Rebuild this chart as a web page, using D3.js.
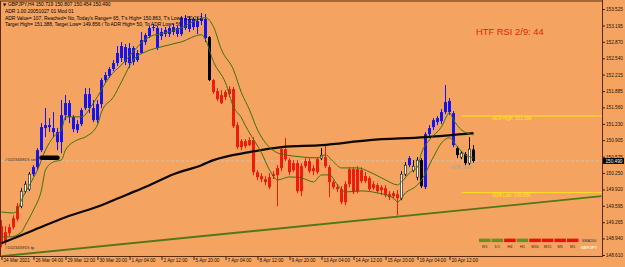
<!DOCTYPE html>
<html>
<head>
<meta charset="utf-8">
<script src="https://cdn.jsdelivr.net/npm/d3@7"></script>
<style>
body { margin: 0; background: #f4a460; }
svg { display: block; font-family: "Liberation Sans", Arial, sans-serif; }
</style>
</head>
<body>
<script>
// GBPJPY H4 bars, 24 Mar 20:00 .. 21 Apr 12:00
var opens = [
 149.185,148.865,149.045,149.165,149.325,149.585,149.885,149.925,150.225,150.365,
 150.705,151.145,151.165,151.145,151.065,150.865,151.405,151.645,151.365,151.105,
 151.225,151.545,151.825,151.545,151.305,151.625,152.105,152.185,152.325,152.445,
 152.545,152.765,152.445,152.745,152.505,152.645,152.865,152.985,153.145,153.145,
 152.985,153.025,153.025,153.065,153.145,153.025,153.345,153.125,153.325,153.165,
 153.285,153.325,152.965,152.105,151.885,151.805,151.765,151.825,151.925,151.205,
 150.765,150.885,150.805,150.905,150.265,150.185,150.125,150.165,150.185,150.205,
 150.345,150.725,150.505,150.305,150.445,149.885,150.385,150.485,150.285,150.265,
 150.545,150.565,150.365,150.065,149.965,149.925,149.665,150.025,150.325,149.885,
 150.305,150.085,150.145,149.945,150.005,149.905,149.945,149.825,149.785,149.825,
 149.745,150.225,150.405,150.305,150.165,150.505,149.965,151.025,151.165,151.265,
 151.285,151.465,151.685,151.445,150.745,150.565,150.625,150.445,150.719];
var highs = [
 149.305,149.185,149.225,149.405,149.645,149.945,150.085,150.265,150.405,150.745,
 151.245,151.545,151.345,151.465,151.145,151.705,151.805,151.705,151.405,151.305,
 151.545,151.945,151.945,151.705,151.705,152.145,152.265,152.365,152.505,152.785,
 152.865,152.825,152.845,152.785,152.705,153.065,153.045,153.185,153.225,153.185,
 153.145,153.165,153.185,153.225,153.185,153.385,153.405,153.385,153.365,153.365,
 153.445,153.425,152.985,152.125,151.945,151.905,151.905,151.985,151.965,151.265,
 150.925,150.925,150.965,150.965,150.305,150.245,150.185,150.245,150.285,150.405,
 150.765,150.945,150.545,150.505,150.505,150.445,150.545,150.545,150.405,150.565,
 150.745,150.805,150.405,150.105,150.025,149.985,150.085,150.365,150.365,150.385,
 150.365,150.265,150.185,150.085,150.045,150.005,150.005,149.885,149.885,149.905,
 150.285,150.465,150.585,150.505,150.565,150.545,151.065,151.205,151.345,151.385,
 151.525,152.005,151.745,151.485,150.785,150.685,150.665,150.965,150.807];
var lows = [
 148.765,148.805,148.985,149.125,149.285,149.545,149.845,149.885,150.185,150.305,
 150.665,150.965,151.065,150.965,150.705,150.645,151.305,151.245,151.065,151.045,
 151.185,151.505,151.445,151.265,151.245,151.545,152.045,152.145,152.285,152.385,
 152.465,152.405,152.345,152.405,152.465,152.625,152.805,152.945,153.085,152.705,
 152.905,152.965,152.965,153.005,152.965,152.985,153.105,153.065,153.105,153.025,
 153.205,152.865,152.085,151.825,151.685,151.625,151.705,151.765,151.145,150.725,
 150.705,150.745,150.785,150.205,150.105,150.065,150.005,149.925,150.125,149.585,
 150.285,150.485,150.205,150.265,149.845,149.785,150.345,150.245,150.205,150.225,
 150.505,150.345,149.765,149.925,149.865,149.625,149.605,149.965,149.825,149.845,
 150.045,150.045,149.885,149.905,149.845,149.805,149.765,149.705,149.725,149.405,
 149.705,150.185,150.365,150.265,150.105,149.945,149.925,150.945,151.105,151.205,
 151.225,151.425,151.405,150.765,150.545,150.525,150.405,150.405,150.454];
var closes = [
 148.845,149.065,149.165,149.345,149.585,149.885,150.025,150.225,150.365,150.705,
 151.165,151.205,151.205,151.065,150.865,151.405,151.645,151.365,151.125,151.225,
 151.505,151.825,151.545,151.305,151.625,152.105,152.205,152.325,152.445,152.645,
 152.785,152.465,152.745,152.465,152.645,152.905,153.005,153.145,153.165,152.745,
 153.065,153.105,153.145,153.165,153.025,153.345,153.145,153.325,153.165,153.285,
 153.345,152.945,152.105,151.865,151.725,151.645,151.865,151.925,151.185,150.765,
 150.885,150.785,150.905,150.265,150.165,150.125,150.065,149.965,150.225,150.345,
 150.725,150.525,150.265,150.445,149.885,150.385,150.485,150.285,150.345,150.525,
 150.605,150.385,150.065,149.965,149.925,149.665,150.025,150.325,149.865,150.325,
 150.085,150.185,149.925,150.025,149.885,149.965,149.805,149.765,149.845,149.745,
 150.225,150.405,150.545,150.385,150.505,149.985,151.025,151.145,151.305,151.345,
 151.465,151.665,151.465,150.805,150.605,150.645,150.445,150.725,150.490];
// r = red, b = blue, w = white, k = black
var barColor = ("rrrrrwwwbb" + "bbbbbbbbbb" + "bbbbbbbbbb" + "bbbbbbbbbb" + "bbbbbbbbbb" +
  "bbkrrrrrrr" + "rrrrrrrrrr" + "rrrrrrrrrr" + "wrrrrrrrrr" + "rrrrrrrrrr" +
  "wwbwwkbbbb" + "bbbbkwkwk").split("");

// indicator lines, [bar, price]
var upperMa = [[0,149.47],[3,149.45],[4,149.51],[5,149.71],[7,150.01],[9,150.31],[11,150.71],[13,150.97],
  [15,151.11],[16,151.37],[20,151.37],[23,151.65],[27,152.17],[30,152.41],[37,152.97],[41,153.05],
  [45,153.15],[49,153.31],[51,153.35],[53,153.17],[55,152.71],[58,152.31],[60,151.85],[62,151.51],
  [64,151.11],[66,150.85],[69,150.65],[71,150.61],[75,150.57],[79,150.55],[81,150.61],[83,150.47],
  [85,150.35],[89,150.35],[92,150.27],[96,150.11],[99,150.01],[100,150.07],[102,150.25],[104,150.37],
  [105,150.65],[107,150.91],[110,151.17],[112,151.45],[113,151.31],[115,151.11],[118,151.01]];
var lowerMa = [[0,148.97],[2,148.97],[5,149.07],[6,149.21],[8,149.51],[10,149.91],[11,150.31],[13,150.47],
  [15,150.51],[16,150.71],[19,150.91],[21,150.97],[24,151.21],[25,151.47],[28,151.77],[30,152.07],
  [33,152.51],[36,152.67],[39,152.75],[45,152.87],[50,153.01],[51,152.91],[53,152.47],[56,152.05],
  [58,151.57],[60,151.35],[61,151.19],[62,151.05],[65,150.65],[67,150.31],[69,150.11],[72,150.17],
  [75,150.15],[78,150.07],[80,150.21],[82,150.21],[84,150.01],[86,149.87],[90,149.89],[94,149.85],
  [98,149.75],[99,149.67],[101,149.85],[104,150.01],[105,150.11],[108,150.57],[110,150.85],
  [112,150.95],[114,150.77],[116,150.61],[118,150.55]];
var sma200 = [[0,148.845],[8,149.105],[16,149.365],[25,149.605],[31,149.805],[37,150.005],[43,150.225],
  [50,150.405],[53,150.505],[62,150.665],[70,150.765],[80,150.805],[92,150.905],[106,150.965],[118,151.045]];

var trendBars = [0, 150];
var trendPrices = [148.585, 149.785];
var adrHigh = 151.388, adrLow = 149.856, adrStartBar = 115;
var bidPrice = 150.490, tpPrice = 148.665, orderPrice = 150.555;
var orderBars = [10, 14];

var priceTicks = [153.525,153.195,152.870,152.540,152.215,151.885,151.560,151.230,150.905,
  150.575,150.250,149.920,149.595,149.265,148.940,148.610];
var timeTickBars = [0,8,16,24,32,40,48,56,64,72,80,88,96,104,112];
var timeLabels = ["24 Mar 2021","26 Mar 04:00","29 Mar 12:00","30 Mar 20:00","1 Apr 04:00",
  "2 Apr 12:00","5 Apr 20:00","7 Apr 04:00","8 Apr 12:00","9 Apr 20:00","13 Apr 04:00",
  "14 Apr 12:00","15 Apr 20:00","19 Apr 04:00","20 Apr 12:00"];

var infoLines = ["GBPJPY,H4  150.719 150.807 150.454 150.490",
  "ADR 1.00 20051027 01 Mod 01",
  "ADR Value= 107, Reached= No, Today's Range= 65, T's High= 150.863, T's Low= 150.212",
  "Target High= 151.388, Target Low= 149.856 / To ADR High= 50, To ADR Low= 56"];

var timeframes = ["W1","D1","H4","H1","M30","M15","M5","M1"];
var tfUp = [1,1,0,1,0,0,0,0];

var W = 625, H = 267, plotRight = 602, plotBottom = 256;
var fill = {r: "#ee1c0c", b: "#1414f0", w: "#ffffff", k: "#000000"};
var wick = {r: "#ee1c0c", b: "#1414f0", w: "#000000", k: "#000000"};

var svg = d3.select("body").append("svg").attr("width", W).attr("height", H);
svg.append("rect").attr("width", W).attr("height", H).attr("fill", "#f4a460");

var x = d3.scaleLinear().domain([0, 1]).range([1.5, 5.5]);
var y = d3.scaleLinear().domain([148.61, 153.525]).range([255, 9]);

svg.append("clipPath").attr("id", "plot").append("rect")
  .attr("x", 1).attr("y", 1).attr("width", plotRight - 1).attr("height", plotBottom - 1);
var g = svg.append("g").attr("clip-path", "url(#plot)");

// dashed bid + tp lines
g.append("line").attr("x1", 1).attr("x2", plotRight).attr("y1", y(bidPrice)).attr("y2", y(bidPrice))
  .attr("stroke", "#cfc6bc").attr("stroke-width", 0.8).attr("stroke-dasharray", "3,2");
g.append("line").attr("x1", 1).attr("x2", plotRight).attr("y1", y(tpPrice)).attr("y2", y(tpPrice))
  .attr("stroke", "#dcb38e").attr("stroke-width", 0.8).attr("stroke-dasharray", "3,2");

// trendline
g.append("line")
  .attr("x1", x(trendBars[0])).attr("y1", y(trendPrices[0]))
  .attr("x2", x(trendBars[1])).attr("y2", y(trendPrices[1]))
  .attr("stroke", "#50781a").attr("stroke-width", 1.8);

// ADR levels
[adrHigh, adrLow].forEach(function(p) {
  g.append("line").attr("x1", x(adrStartBar)).attr("x2", plotRight)
    .attr("y1", y(p)).attr("y2", y(p)).attr("stroke", "#ffe41a").attr("stroke-width", 1);
});

// candles
var bars = d3.range(opens.length).map(function(i) {
  return {i: i, o: opens[i], h: highs[i], l: lows[i], c: closes[i], k: barColor[i]};
});
var cg = g.append("g");
cg.selectAll(".wick").data(bars).enter().append("line")
  .attr("x1", function(d) { return x(d.i); }).attr("x2", function(d) { return x(d.i); })
  .attr("y1", function(d) { return y(d.h); }).attr("y2", function(d) { return y(d.l); })
  .attr("stroke", function(d) { return wick[d.k]; }).attr("stroke-width", 1);
cg.selectAll(".body").data(bars).enter().append("rect")
  .attr("x", function(d) { return x(d.i) - (d.k == "w" ? 1.2 : 1.5); })
  .attr("width", function(d) { return d.k == "w" ? 2.4 : 3; })
  .attr("y", function(d) { return y(Math.max(d.o, d.c)); })
  .attr("height", function(d) { return Math.max(1, Math.abs(y(d.o) - y(d.c))); })
  .attr("fill", function(d) { return fill[d.k]; })
  .attr("stroke", function(d) { return d.k == "w" ? "#000" : "none"; })
  .attr("stroke-width", 0.6);

// moving averages
var line = d3.line().x(function(d) { return x(d[0]); }).y(function(d) { return y(d[1]); })
  .curve(d3.curveMonotoneX);
g.append("path").datum(sma200).attr("d", line).attr("fill", "none")
  .attr("stroke", "#0c0804").attr("stroke-width", 2.2);
g.append("path").datum(upperMa).attr("d", line).attr("fill", "none")
  .attr("stroke", "#3d6e10").attr("stroke-width", 1);
g.append("path").datum(lowerMa).attr("d", line).attr("fill", "none")
  .attr("stroke", "#3d6e10").attr("stroke-width", 1);

// order marker
g.append("line").attr("x1", x(orderBars[0])).attr("x2", x(orderBars[1]))
  .attr("y1", y(orderPrice)).attr("y2", y(orderPrice))
  .attr("stroke", "#000").attr("stroke-width", 4.5).attr("stroke-linecap", "round");

// frame
var frame = svg.append("g").attr("stroke", "#5a2c0c").attr("stroke-width", 1);
frame.append("line").attr("x1", 0).attr("x2", plotRight).attr("y1", 1).attr("y2", 1);
frame.append("line").attr("x1", 0.5).attr("x2", 0.5).attr("y1", 1).attr("y2", plotBottom);
frame.append("line").attr("x1", plotRight + 0.5).attr("x2", plotRight + 0.5).attr("y1", 0).attr("y2", plotBottom + 1);
frame.append("line").attr("x1", 0).attr("x2", plotRight).attr("y1", plotBottom + 0.5).attr("y2", plotBottom + 0.5);

// right price axis
var yAxis = d3.axisRight(y).tickValues(priceTicks).tickFormat(d3.format(".3f")).tickSize(2.5).tickPadding(1);
var ya = svg.append("g").attr("transform", "translate(" + (plotRight + 0.5) + ",0)").call(yAxis);
ya.select(".domain").remove();
ya.attr("font-size", 4.7).attr("font-family", null);
ya.selectAll("line").attr("stroke", "#3a2010");
ya.selectAll("text").attr("fill", "#1a1008");

// bottom time axis
var xAxis = d3.axisBottom(x).tickValues(timeTickBars)
  .tickFormat(function(d, i) { return timeLabels[i]; }).tickSize(3.5);
var xa = svg.append("g").attr("transform", "translate(0," + (plotBottom + 0.5) + ")").call(xAxis);
xa.select(".domain").remove();
xa.attr("font-size", 4.7).attr("font-family", null);
xa.selectAll("line").attr("stroke", "#3a2010");
xa.selectAll("text").attr("text-anchor", "start").attr("x", 1.5).attr("y", 2.4).attr("fill", "#1a1008");

// current price box
svg.append("rect").attr("x", plotRight + 1).attr("y", y(bidPrice) - 3).attr("width", 21).attr("height", 6)
  .attr("fill", "#000");
svg.append("text").attr("x", plotRight + 3.5).attr("y", y(bidPrice)).attr("dy", "0.35em")
  .attr("font-size", 4.7).attr("fill", "#fff").text(d3.format(".3f")(bidPrice));

// info text block
var info = svg.append("g").attr("font-size", 4.9).attr("fill", "#000");
info.append("text").attr("x", 3).attr("y", 4.5).attr("dy", "0.35em").attr("font-size", 4)
  .attr("font-family", "DejaVu Sans").text("\u25BC");
info.selectAll(".ln").data(infoLines).enter().append("text")
  .attr("x", function(d, i) { return i == 0 ? 8 : 5; })
  .attr("y", function(d, i) { return 4.5 + i * 6.7; }).attr("dy", "0.35em")
  .text(function(d) { return d; });

// HTF RSI label
svg.append("text").attr("x", 476).attr("y", 35.4).attr("font-size", 9.4)
  .attr("fill", "#d8280c").text("HTF RSI 2/9: 44");

// ADR labels
svg.append("text").attr("x", 492).attr("y", y(adrHigh) + 2.6).attr("dy", "0.35em").attr("font-size", 4.6)
  .attr("fill", "#ffe41a").text("ADR High: " + adrHigh.toFixed(3));
svg.append("text").attr("x", 492).attr("y", y(adrLow) + 2.6).attr("dy", "0.35em").attr("font-size", 4.6)
  .attr("fill", "#ffe41a").text("ADR Low: " + adrLow.toFixed(3));
svg.append("text").attr("x", x(adrStartBar)).attr("y", 167).attr("dy", "0.35em").attr("font-size", 4.6)
  .attr("text-anchor", "middle").attr("fill", "#a8a49e").text("ADR Start");

// order labels
svg.append("text").attr("x", 5).attr("y", 159).attr("dy", "0.35em").attr("font-size", 4.4)
  .attr("fill", "#2a2a2a").text("#102345915 sell");
svg.append("text").attr("x", 5).attr("y", 247.5).attr("dy", "0.35em").attr("font-size", 4.4)
  .attr("fill", "#2a2a2a").text("#102345915 tp");

// timeframe trend panel
var tf = d3.scaleBand().domain(timeframes).range([479, 578.5]).paddingInner(0.08);
var panel = svg.append("g");
panel.selectAll("rect").data(timeframes).enter().append("rect")
  .attr("x", function(d) { return tf(d); }).attr("width", tf.bandwidth())
  .attr("y", 238.6).attr("height", 3.5)
  .attr("fill", function(d, i) { return tfUp[i] ? "#6e8e22" : "#e8140c"; });
panel.selectAll("text").data(timeframes).enter().append("text")
  .attr("x", function(d) { return tf(d) + tf.bandwidth() / 2; }).attr("y", 246.8).attr("dy", "0.35em")
  .attr("text-anchor", "middle").attr("font-size", 3.9).attr("fill", "#2e2a26")
  .text(function(d) { return d; });
svg.append("text").attr("x", 589).attr("y", 240.6).attr("dy", "0.35em").attr("text-anchor", "middle")
  .attr("font-size", 3.8).attr("fill", "#2e2a26").text("SMA200");
svg.append("text").attr("x", 589).attr("y", 247.2).attr("dy", "0.35em").attr("text-anchor", "middle")
  .attr("font-size", 4.1).attr("font-weight", "bold").attr("fill", "#fff0dc").text("GBPJPY");
</script>
</body>
</html>
